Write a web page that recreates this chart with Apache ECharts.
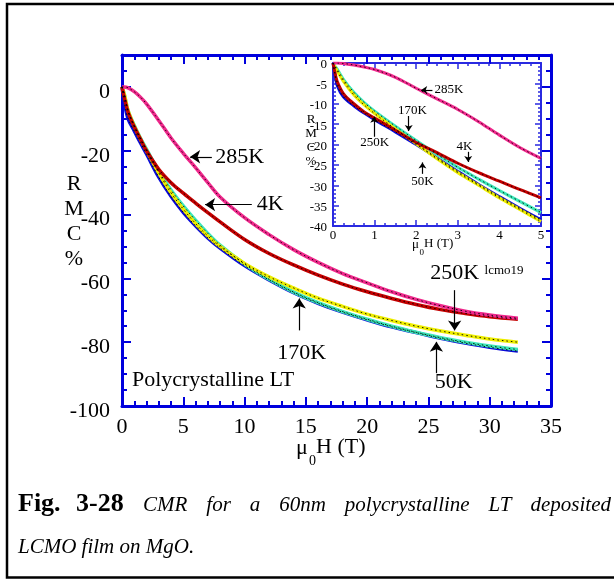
<!DOCTYPE html>
<html lang="en">
<head>
<meta charset="UTF-8">
<title>CMR polycrystalline LT LCMO film</title>
<script src="https://cdn.jsdelivr.net/npm/echarts@6.0.0/dist/echarts.min.js"></script>
<style>
  html, body { margin: 0; padding: 0; background: #fff; }
  #main { width: 614px; height: 579px; }
</style>
</head>
<body>
<div id="main"></div>
<script>
// main panel: field (T) and RMC (%) per temperature
var fieldMain = [0, 0.2, 0.5, 1, 1.5, 2, 3, 4, 5, 6, 7, 8, 10, 12, 14, 16, 18, 20, 22, 24, 26, 28, 30, 32.3];
var rmc285Main = [0, 0, -0.3, -1.5, -3.2, -5.3, -10.5, -16, -20.8, -25.3, -30, -34.5, -41, -46.3, -51, -55, -58.5, -61.4, -64.2, -66.6, -68.6, -70.3, -71.5, -72.5];
var rmc4Main = [0, -3.5, -8, -12.5, -16.3, -20, -25.8, -30, -33.3, -36.4, -39.4, -42.3, -47.8, -52.2, -55.8, -59, -61.8, -64.2, -66.3, -68.2, -69.8, -71, -72, -72.8];
var rmc250Main = [0, -2.5, -7.5, -12.3, -16.3, -20, -27, -33.2, -38.3, -42.8, -46.7, -50, -55.3, -59.5, -63, -66.2, -68.8, -71.2, -73.2, -75, -76.5, -77.8, -79, -80];
var rmc170Main = [0, -2.5, -7.5, -12, -16, -19.5, -26.5, -32.3, -37.3, -41.8, -45.9, -49.6, -55.5, -60.3, -64.3, -67.6, -70.4, -72.8, -75, -76.9, -78.6, -80, -81.2, -82.3];
var rmc50Main = [0, -5, -10, -13.8, -17.5, -21, -28.3, -34.3, -39.3, -43.5, -47.3, -50.5, -56, -60.5, -64.5, -67.8, -70.6, -73, -75.2, -77, -78.8, -80.3, -81.6, -82.8];

// inset: low field region
var fieldInset = [0, 0.05, 0.1, 0.25, 0.5, 0.75, 1, 1.5, 2, 2.5, 3, 3.5, 4, 4.5, 5];
var rmc285Inset = [0, 0, 0, -0.1, -0.5, -1.0, -1.6, -3.5, -6.2, -8.8, -11.4, -14.4, -17.7, -20.8, -23.4];
var rmc4Inset = [0, -2.5, -4.5, -7.5, -10, -12, -13.5, -16.5, -19.5, -22, -24.6, -26.9, -29, -31.1, -33.1];
var rmc170Inset = [0, -0.8, -1.5, -4, -7.2, -9.7, -11.8, -15.5, -19, -22.4, -25.6, -28.5, -31.3, -34, -36.7];
var rmc250Inset = [0, -1, -2, -4.5, -7.8, -10.3, -12.4, -16.2, -19.8, -23.5, -26.9, -30, -33.1, -36, -38.9];
var rmc50Inset = [0, -3, -5.5, -8.3, -10.5, -12.3, -13.9, -16.9, -20, -23.3, -26.6, -29.8, -32.8, -35.7, -38.5];

var xTicksMain = [0, 35, 5];
var yTicksMain = [-100, 10, 20];
var xTicksInset = [0, 5, 1];
var yTicksInset = [-40, 0, 5];

var FONT = '"Liberation Serif", "Times New Roman", serif';
var BLUE = '#0000dd';
var IBLUE = '#2a2ae0';

var chart = echarts.init(document.getElementById('main'));

function pairs(xs, ys) {
    return xs.map(function (x, i) { return [x, ys[i]]; });
}

function axis(o) {
    return {
        type: 'value', gridIndex: o.grid, position: o.pos,
        min: o.min, max: o.max, interval: o.step,
        axisLine: { show: o.line !== false, onZero: false, lineStyle: { color: o.color, width: o.lw } },
        axisTick: { show: true, inside: true, length: o.tick, lineStyle: { color: o.color, width: o.tw } },
        minorTick: { show: !!o.minor, splitNumber: o.minor || 5, length: o.minorLen, lineStyle: { color: o.color, width: o.tw } },
        axisLabel: {
            show: !!o.label, fontFamily: FONT, fontSize: o.fs, color: '#000', margin: o.margin,
            verticalAlign: o.lh ? 'top' : undefined, lineHeight: o.lh, formatter: o.fmt
        },
        splitLine: { show: false }
    };
}

var mainFmt = function (v) { return Math.abs(v % 20) < 1e-6 ? String(v) : ''; };

var xAxes = [
    axis({ grid: 0, pos: 'bottom', min: xTicksMain[0], max: xTicksMain[1], step: xTicksMain[2], color: BLUE, lw: 3, tick: 9, tw: 2, minor: 5, minorLen: 5, label: true, fs: 22, margin: 10 }),
    axis({ grid: 0, pos: 'top', min: xTicksMain[0], max: xTicksMain[1], step: xTicksMain[2], color: BLUE, lw: 3, tick: 9, tw: 2, minor: 5, minorLen: 5 }),
    axis({ grid: 1, pos: 'bottom', min: xTicksInset[0], max: xTicksInset[1], step: xTicksInset[2], color: IBLUE, lw: 2, tick: 6, tw: 1.5, minor: 4, minorLen: 3, label: true, fs: 13, margin: 3 }),
    axis({ grid: 1, pos: 'top', min: xTicksInset[0], max: xTicksInset[1], step: xTicksInset[2], color: IBLUE, lw: 2, tick: 6, tw: 1.5, minor: 4, minorLen: 3 })
];
var yAxes = [
    axis({ grid: 0, pos: 'left', min: yTicksMain[0], max: yTicksMain[1], step: 5, color: BLUE, lw: 3, tick: 5, tw: 2, label: true, fs: 22, margin: 12, lh: 10, fmt: mainFmt }),
    axis({ grid: 0, pos: 'left', min: yTicksMain[0], max: yTicksMain[1], step: yTicksMain[2], color: BLUE, lw: 3, tick: 9, tw: 2, line: false }),
    axis({ grid: 0, pos: 'right', min: yTicksMain[0], max: yTicksMain[1], step: 5, color: BLUE, lw: 3, tick: 5, tw: 2 }),
    axis({ grid: 0, pos: 'right', min: yTicksMain[0], max: yTicksMain[1], step: yTicksMain[2], color: BLUE, lw: 3, tick: 9, tw: 2, line: false }),
    axis({ grid: 1, pos: 'left', min: yTicksInset[0], max: yTicksInset[1], step: yTicksInset[2], color: IBLUE, lw: 2, tick: 6, tw: 1.5, minor: 5, minorLen: 3, label: true, fs: 13, margin: 6, lh: 4 }),
    axis({ grid: 1, pos: 'right', min: yTicksInset[0], max: yTicksInset[1], step: yTicksInset[2], color: IBLUE, lw: 2, tick: 6, tw: 1.5, minor: 5, minorLen: 3 })
];

var curveColors = { c50: '#0a0ad8', c170: '#3ce8b8', c250: '#eeee00', c4: '#c40000', c285: '#f0288c' };

function curve(data, color, xi, yi, w) {
    return [
        { type: 'line', xAxisIndex: xi, yAxisIndex: yi, data: data, showSymbol: false, smooth: 0.35,
          lineStyle: { color: color, width: w }, z: 2 },
        { type: 'line', xAxisIndex: xi, yAxisIndex: yi, data: data, showSymbol: false, smooth: 0.35,
          lineStyle: { color: '#000', width: 0.9, type: [1.5, 3] }, z: 3 }
    ];
}

var series = [].concat(
    curve(pairs(fieldMain, rmc50Main), curveColors.c50, 0, 0, 3.5),
    curve(pairs(fieldMain, rmc170Main), curveColors.c170, 0, 0, 3.5),
    curve(pairs(fieldMain, rmc250Main), curveColors.c250, 0, 0, 3.5),
    curve(pairs(fieldMain, rmc4Main), curveColors.c4, 0, 0, 3.5),
    curve(pairs(fieldMain, rmc285Main), curveColors.c285, 0, 0, 3.5),
    curve(pairs(fieldInset, rmc50Inset), curveColors.c50, 2, 4, 3),
    curve(pairs(fieldInset, rmc170Inset), curveColors.c170, 2, 4, 3),
    curve(pairs(fieldInset, rmc250Inset), curveColors.c250, 2, 4, 3),
    curve(pairs(fieldInset, rmc4Inset), curveColors.c4, 2, 4, 3),
    curve(pairs(fieldInset, rmc285Inset), curveColors.c285, 2, 4, 3)
);

// annotation arrows, in data coordinates [x0, y0, x1(tip), y1(tip)]
var mainArrows = [[7.33, -21.9, 5.56, -21.9], [10.59, -36.9, 6.78, -36.9], [14.46, -76.3, 14.46, -66.3], [27.14, -63.7, 27.14, -76.3], [25.65, -89.7, 25.65, -79.9]];
var insetArrows = [[2.39, -6.6, 2.12, -6.6], [1.82, -13.0, 1.82, -16.7], [0.99, -18.1, 0.99, -13.2], [3.25, -21.8, 3.25, -24.3], [2.15, -27.2, 2.15, -24.4]];

function arrowMark(list, size) {
    return {
        silent: true, animation: false, symbol: ['none', 'arrow'], symbolSize: size,
        label: { show: false }, lineStyle: { color: '#000', width: 1.2, type: 'solid' },
        data: list.map(function (a) { return [{ coord: [a[0], a[1]] }, { coord: [a[2], a[3]] }]; })
    };
}
series[1].markLine = arrowMark(mainArrows, 10);
series[11].markLine = arrowMark(insetArrows, 6);

chart.setOption({
    animation: false,
    grid: [
        { left: 122, top: 55, width: 429, height: 351 },
        { left: 333, top: 63, width: 208, height: 163 }
    ],
    xAxis: xAxes,
    yAxis: yAxes,
    series: series
});

var mainLabels = [
    { t: '285K', x: 7.61, y: -21.9, a: 'left' },
    { t: '4K', x: 11.0, y: -36.8, a: 'left' },
    { t: '170K', x: 14.66, y: -83.6, a: 'center' },
    { t: '250K', x: 27.14, y: -58.5, a: 'center' },
    { t: '50K', x: 27.06, y: -92.5, a: 'center' },
    { t: 'Polycrystalline LT', x: 0.81, y: -91.9, a: 'left' }
];
var insetLabels = [
    { t: '285K', x: 2.44, y: -6.6, a: 'left' },
    { t: '170K', x: 1.91, y: -11.7, a: 'center' },
    { t: '250K', x: 1.0, y: -19.6, a: 'center' },
    { t: '4K', x: 3.16, y: -20.6, a: 'center' },
    { t: '50K', x: 2.15, y: -29.1, a: 'center' }
];

function txt(text, x, y, size, align, extra) {
    var st = { text: text, x: x, y: y, fontFamily: FONT, fontSize: size, fill: '#000',
               align: align, textAlign: align, verticalAlign: 'middle', textVerticalAlign: 'middle' };
    if (extra) for (var k in extra) st[k] = extra[k];
    return { type: 'text', z: 10, style: st };
}

var g = [];
g.push({ type: 'rect', z: 1, shape: { x: 7, y: 4, width: 700, height: 573.5 }, style: { fill: 'none', stroke: '#000', lineWidth: 2.5 } });
mainLabels.forEach(function (l) {
    var p = chart.convertToPixel({ xAxisIndex: 0, yAxisIndex: 0 }, [l.x, l.y]);
    g.push(txt(l.t, p[0], p[1], 22, l.a));
});
var pl = chart.convertToPixel({ xAxisIndex: 0, yAxisIndex: 0 }, [29.58, -57.5]);
g.push(txt('lcmo19', pl[0], pl[1], 13, 'left'));
insetLabels.forEach(function (l) {
    var p = chart.convertToPixel({ xAxisIndex: 2, yAxisIndex: 4 }, [l.x, l.y]);
    g.push(txt(l.t, p[0], p[1], 13, l.a));
});

// axis titles
g.push(txt('R\nM\nC\n%', 74, 222, 22, 'center', { lineHeight: 25 }));
g.push(txt('R\nM\nC\n%', 311, 141, 13, 'center', { lineHeight: 14 }));
g.push(txt('\u03bc', 296, 448, 22, 'left'));
g.push(txt('0', 309, 461, 14, 'left'));
g.push(txt('H (T)', 316, 447, 22, 'left'));
g.push(txt('\u03bc', 412, 245, 13, 'left'));
g.push(txt('0', 419.5, 253, 9, 'left'));
g.push(txt('H (T)', 424, 244, 13, 'left'));

// caption: bold figure number, then italic words spread to the right edge
g.push(txt('Fig.', 18, 504, 26, 'left', { fontWeight: 'bold' }));
g.push(txt('3-28', 76, 504, 26, 'left', { fontWeight: 'bold' }));
var capWords = ['CMR', 'for', 'a', '60nm', 'polycrystalline', 'LT', 'deposited'];
var ctx = document.createElement('canvas').getContext('2d');
ctx.font = 'italic 21px ' + FONT;
var widths = capWords.map(function (w) { return ctx.measureText(w).width; });
var total = widths.reduce(function (s, w) { return s + w; }, 0);
var capLeft = 143, capRight = 611;
var gap = (capRight - capLeft - total) / (capWords.length - 1);
var cx = capLeft;
capWords.forEach(function (w, i) {
    g.push(txt(w, cx, 505, 21, 'left', { fontStyle: 'italic' }));
    cx += widths[i] + gap;
});
g.push(txt('LCMO film on MgO.', 18, 547, 21, 'left', { fontStyle: 'italic' }));

chart.setOption({ graphic: g });
</script>
</body>
</html>
